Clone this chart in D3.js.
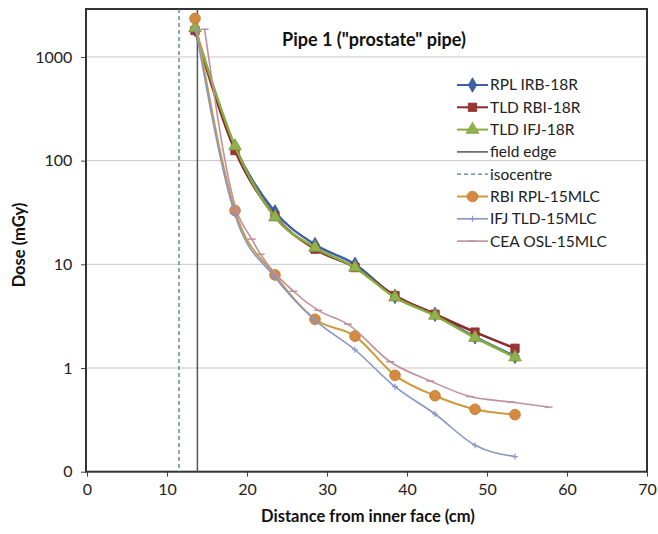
<!DOCTYPE html>
<html><head><meta charset="utf-8">
<script src="https://cdn.jsdelivr.net/npm/d3@7"></script>
<style>body{margin:0;background:#fff}svg{display:block}text{font-family:Lato,"Open Sans",sans-serif}</style>
</head><body><svg id="c" width="658" height="534"></svg>
<script>
const rplIrb18R = [[13.5,1850],[18.5,135],[23.5,32],[28.5,15.5],[33.5,10],[38.5,4.9],[43.5,3.3],[48.5,2.0],[53.5,1.3]];
const tldRbi18R = [[13.5,1800],[18.5,125],[23.5,29],[28.5,14],[33.5,9.3],[38.5,5.0],[43.5,3.3],[48.5,2.22],[53.5,1.55]];
const tldIfj18R = [[13.5,1900],[18.5,138],[23.5,28.5],[28.5,14.5],[33.5,9.3],[38.5,4.8],[43.5,3.2],[48.5,1.96],[53.5,1.27]];
const rbiRpl15MLC = [[13.5,2350],[18.5,33],[23.5,7.9],[28.5,2.95],[33.5,2.03],[38.5,0.85],[43.5,0.54],[48.5,0.40],[53.5,0.355]];
const ifjTld15MLC = [[13.6,1850],[18.5,30],[23.5,7.5],[28.5,2.9],[33.5,1.5],[38.5,0.66],[43.5,0.36],[48.5,0.18],[53.5,0.14]];
const ceaOsl15MLC = [[14.7,1850],[18.7,33],[20.6,17.5],[21.7,12.5],[25.8,5.5],[28.9,3.6],[32.6,2.65],[37.9,1.15],[42.9,0.75],[47.9,0.53],[53,0.47],[57.7,0.42]];
const fieldEdgeX = 13.8;
const isocentreX = 11.5;
const xTicks = [0,10,20,30,40,50,60,70];
const yTickValues = [0.1,1,10,100,1000];
const yTickLabels = ["0","1","10","100","1000"];
const seriesNames = ["RPL IRB-18R","TLD RBI-18R","TLD IFJ-18R","field edge","isocentre","RBI RPL-15MLC","IFJ TLD-15MLC","CEA OSL-15MLC"];

const svg = d3.select("#c");
const L=86, R=647, T=9, B=471.7;
const x = d3.scaleLinear().domain([0,70]).range([L+1,R]);
const y = d3.scaleLog().domain([0.1,2900]).range([B,T]);

svg.append("g").selectAll("line").data(yTickValues.slice(1)).join("line")
  .attr("x1",L).attr("x2",R).attr("y1",d=>y(d)).attr("y2",d=>y(d))
  .attr("stroke","#c8c8c8").attr("stroke-width",1);

const xAxis = svg.append("g").attr("transform",`translate(0,${B})`)
  .call(d3.axisBottom(x).tickValues(xTicks).tickSize(5).tickSizeOuter(0));
const yAxis = svg.append("g").attr("transform",`translate(${L},0)`)
  .call(d3.axisLeft(y).tickValues(yTickValues).tickFormat((d,i)=>yTickLabels[i]).tickSize(5).tickSizeOuter(0));
[xAxis,yAxis].forEach(a=>{a.select(".domain").remove();a.selectAll("line").attr("stroke","#444");
  a.selectAll("text").attr("font-size",16).attr("fill","#222");});
xAxis.selectAll("text").attr("dy","0.95em");
yAxis.selectAll("text").attr("dx","-0.35em");

svg.append("rect").attr("x",L).attr("y",T).attr("width",R-L).attr("height",B-T)
  .attr("fill","none").attr("stroke","#333").attr("stroke-width",2);

svg.append("line").attr("x1",x(isocentreX)).attr("x2",x(isocentreX)).attr("y1",T).attr("y2",B)
  .attr("stroke","#4f7f7a").attr("stroke-width",1.3).attr("stroke-dasharray","4,3");
svg.append("line").attr("x1",x(fieldEdgeX)).attr("x2",x(fieldEdgeX)).attr("y1",T).attr("y2",B)
  .attr("stroke","#555").attr("stroke-width",1.5);

const line = d3.line().x(d=>x(d[0])).y(d=>y(d[1])).curve(d3.curveMonotoneX);

const styles = [
  {data:rplIrb18R,color:"#3f5fa8",lw:2.5,mk:"diamond",mc:"#3f5fa8",ms:60},
  {data:tldRbi18R,color:"#8c2b2b",lw:2.5,mk:"square",mc:"#9e3434",ms:70},
  {data:tldIfj18R,color:"#86ad3e",lw:2.5,mk:"triangle",mc:"#8fb24a",ms:70},
  {data:rbiRpl15MLC,color:"#d09a3a",lw:2,mk:"circle",mc:"#d58a40",ms:90},
  {data:ifjTld15MLC,color:"#8797c6",lw:1.6,mk:"plus",mc:"#8797c6",ms:30},
  {data:ceaOsl15MLC,color:"#c08f9e",lw:1.6,mk:"dash",mc:"#c08f9e",ms:30}
];
function drawMarker(g,s,px,py){
  if(s.mk==="plus"){
    g.append("path").attr("d",`M${px-3},${py}H${px+3}M${px},${py-3}V${py+3}`).attr("stroke",s.mc).attr("stroke-width",1.2);
  } else if(s.mk==="dash"){
    g.append("path").attr("d",`M${px-4},${py}H${px+4}`).attr("stroke",s.mc).attr("stroke-width",1.5);
  } else {
    const t={diamond:d3.symbolDiamond,square:d3.symbolSquare,triangle:d3.symbolTriangle,circle:d3.symbolCircle}[s.mk];
    g.append("path").attr("d",d3.symbol().type(t).size(s.ms)()).attr("transform",`translate(${px},${py})`)
      .attr("fill",s.mc).attr("stroke",d3.color(s.mc).darker(0.4)).attr("stroke-width",0.8);
  }
}
styles.forEach(s=>{
  const g=svg.append("g");
  g.append("path").datum(s.data).attr("d",line).attr("fill","none").attr("stroke",s.color).attr("stroke-width",s.lw);
  s.data.forEach(d=>drawMarker(g,s,x(d[0]),y(d[1])));
});

const legendStyles=[styles[0],styles[1],styles[2],{kind:"solid"},{kind:"dash"},styles[3],styles[4],styles[5]];
const lg=svg.append("g");
seriesNames.forEach((name,i)=>{
  const yy=85+i*22.3; const s=legendStyles[i];
  if(s.kind==="solid"){lg.append("line").attr("x1",457).attr("x2",488).attr("y1",yy).attr("y2",yy).attr("stroke","#555").attr("stroke-width",1.5);}
  else if(s.kind==="dash"){lg.append("line").attr("x1",457).attr("x2",488).attr("y1",yy).attr("y2",yy).attr("stroke","#4f7f7a").attr("stroke-width",1.3).attr("stroke-dasharray","4,3");}
  else{lg.append("line").attr("x1",457).attr("x2",488).attr("y1",yy).attr("y2",yy).attr("stroke",s.color).attr("stroke-width",Math.min(s.lw,2));
    drawMarker(lg,s,472.5,yy);}
  lg.append("text").attr("x",490).attr("y",yy).attr("dy","0.35em").attr("font-size",15.5).attr("fill","#222").text(name);
});

svg.append("text").attr("x",374).attr("y",46).attr("text-anchor","middle").attr("font-size",18).attr("font-weight","bold").attr("fill","#111").text('Pipe 1 ("prostate" pipe)');
svg.append("text").attr("x",368).attr("y",522).attr("text-anchor","middle").attr("font-size",16.5).attr("font-weight","bold").attr("fill","#111").text("Distance from inner face (cm)");
svg.append("text").attr("transform","translate(25,245) rotate(-90)").attr("text-anchor","middle").attr("font-size",16.5).attr("font-weight","bold").attr("fill","#111").text("Dose (mGy)");
</script></body></html>
